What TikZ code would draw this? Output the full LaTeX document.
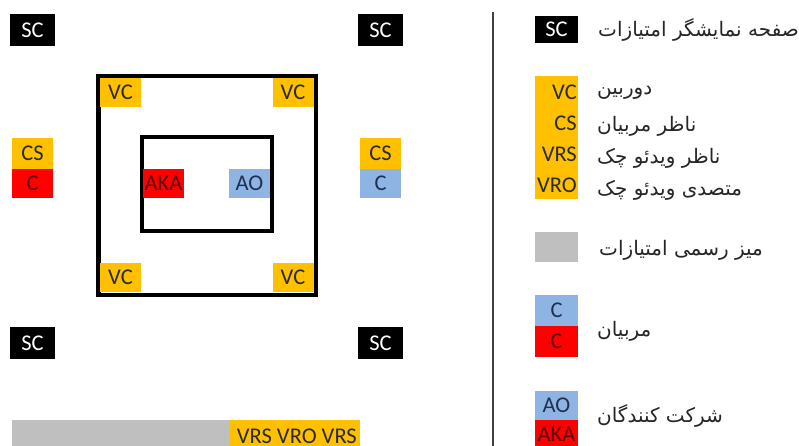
\documentclass[tikz,border=0pt]{standalone}
\usepackage{fontspec}
\setmainfont{Carlito}
\newfontfamily\fa[Script=Arabic]{DejaVu Sans}
\TeXXeTstate=1
\definecolor{gold}{HTML}{FFC000}
\definecolor{lblue}{HTML}{8EB4E3}
\definecolor{myred}{HTML}{FF0000}
\definecolor{lgray}{HTML}{BFBFBF}
\definecolor{txtdark}{HTML}{2A2A2A}
\definecolor{txtnavy}{HTML}{1F2F4F}
\definecolor{txtred}{HTML}{5A0000}
\begin{document}
\begin{tikzpicture}[x=1pt,y=-1pt,
  lbl/.style={font=\fontsize{22.5}{22.5}\selectfont},
  base/.style={lbl, inner sep=0pt, outer sep=0pt, anchor=center},
  scbox/.style={base, fill=black, text=white, minimum width=45, minimum height=32},
  goldbox/.style={base, fill=gold, text=txtdark, minimum width=41, minimum height=29},
  redbox/.style={base, fill=myred, text=txtred, minimum width=41, minimum height=29},
  bluebox/.style={base, fill=lblue, text=txtnavy, minimum width=41, minimum height=29},
  frame/.style={draw=black, line width=4.5pt},
  fatext/.style={font=\fa\fontsize{20}{20}\selectfont, text=black!85, inner sep=0pt, anchor=west}
]
\useasboundingbox (0,0) rectangle (799,446);
\clip (0,0) rectangle (799,446);
\fill[white] (0,0) rectangle (799,446);

% frames
\draw[frame] (98.25,76.25) rectangle (315.75,294.75);
\draw[frame, line width=4pt] (142,137) rectangle (272,231);

% SC boxes
\node[scbox] (sc1) at (32.5,30) {SC};
\node[scbox] (sc2) at (380.5,30) {SC};
\node[scbox] (sc3) at (32.5,343) {SC};
\node[scbox] (sc4) at (380.5,343) {SC};

% VC boxes
\node[goldbox] (vc1) at (120.5,92.5) {VC};
\node[goldbox] (vc2) at (293,92.5) {VC};
\node[goldbox] (vc3) at (120.5,277.5) {VC};
\node[goldbox] (vc4) at (293,277.5) {VC};

% coaches
\node[goldbox, minimum height=31] (csl) at (32.5,153.5) {CS};
\node[redbox] (cl) at (32.5,183.5) {C};
\node[goldbox, minimum height=31] (csr) at (380.5,153.5) {CS};
\node[bluebox] (cr) at (380.5,183.5) {C};

% athletes
\node[redbox] (aka) at (163.5,183.5) {AKA};
\node[bluebox] (ao) at (249.5,183.5) {AO};

% bottom table
\node[base, fill=lgray, minimum width=217, minimum height=30] (table) at (120.5,435) {};
\node[base, fill=gold, minimum width=131, minimum height=30] (vrbar) at (294.5,435) {};
\node[lbl, text=txtdark, inner sep=0pt, anchor=base east] (vrtext) at (357,443) {VRS VRO VRS};

% separator
\coordinate (sepT) at (493,12);
\coordinate (sepB) at (493,446);
\draw[line width=1.2pt, draw=black!75] (sepT) -- (sepB);

% legend
\node[scbox, minimum width=43, minimum height=27] (lsc) at (556.5,29.5) {SC};
\node[fatext] (tsc) at (598,30) {\beginR صفحه نمایشگر امتیازات\endR};

\node[base, fill=gold, minimum width=43, minimum height=123] (lgold) at (556.5,137.5) {};
\node[lbl, text=txtdark, inner sep=0pt, anchor=east] (lvc) at (577,92) {VC};
\node[lbl, text=txtdark, inner sep=0pt, anchor=east] (lcs) at (577,123) {CS};
\node[lbl, text=txtdark, inner sep=0pt, anchor=east] (lvrs) at (577,154) {VRS};
\node[lbl, text=txtdark, inner sep=0pt, anchor=east] (lvro) at (577,185) {VRO};
\node[fatext] (tvc) at (597,93) {\beginR دوربین\endR};
\node[fatext] (tcs) at (597,126) {\beginR ناظر مربیان\endR};
\node[fatext] (tvrs) at (597,158) {\beginR ناظر ویدئو چک\endR};
\node[fatext] (tvro) at (597,190) {\beginR متصدی ویدئو چک\endR};

\node[base, fill=lgray, minimum width=43, minimum height=30] (lgray) at (556.5,247) {};
\node[fatext] (tgray) at (599,250) {\beginR میز رسمی امتیازات\endR};

\node[bluebox, minimum width=43, minimum height=31] (lcb) at (556.5,310.5) {C};
\node[redbox, minimum width=43, minimum height=31] (lcr) at (556.5,341.5) {C};
\node[fatext] (tcoach) at (597,331) {\beginR مربیان\endR};

\node[bluebox, minimum width=43, minimum height=29] (lao) at (556.5,405.5) {AO};
\node[redbox, minimum width=43, minimum height=29] (laka) at (556.5,434.5) {AKA};
\node[fatext] (tath) at (597,416) {\beginR شرکت کنندگان\endR};
\end{tikzpicture}
\end{document}
